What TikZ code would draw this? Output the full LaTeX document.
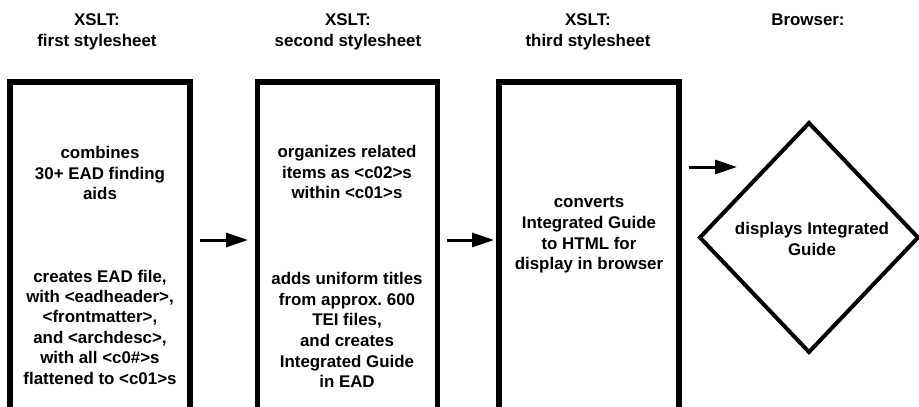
\documentclass[tikz,border=0pt]{standalone}
\usepackage{fontspec}
\setmainfont{Liberation Sans}
\usetikzlibrary{arrows.meta,shapes.geometric}
\frenchspacing
\tikzset{
  txt/.style={font=\fontsize{16.9}{20.4}\selectfont\bfseries, align=center, inner sep=0pt},
  stagebox/.style={draw, line width=5.5pt, outer sep=0pt, minimum width=180pt, minimum height=360pt, anchor=north},
  arr/.style={line width=3pt, -{Triangle[length=22pt,width=14pt]}}
}
\begin{document}
\begin{tikzpicture}[x=1pt,y=-1pt]
\clip (0,0) rectangle (919,407);
\fill[white] (0,0) rectangle (919,407);
% titles
\node[txt] (t1) at (97,32) {XSLT:\\first stylesheet};
\node[txt] (t2) at (348,32) {XSLT:\\second stylesheet};
\node[txt] (t3) at (588,32) {XSLT:\\third stylesheet};
\node[txt] (t4) at (808,20) {Browser:};
% boxes
\node[stagebox, minimum width=180pt] (b1) at (100,82) {};
\node[stagebox, minimum width=180pt] (b2) at (347.5,82) {};
\node[stagebox, minimum width=180pt] (b3) at (589,82) {};
% diamond
\node[draw, diamond, line width=4pt, inner sep=0pt, outer sep=0pt, minimum width=218pt, minimum height=229pt] (d) at (809,237.5) {};
% box texts
\node[txt] (b1a) at (100,173) {combines\\30+ EAD finding\\aids};
\node[txt] (b1b) at (100,327) {creates EAD file,\\with <eadheader>,\\<frontmatter>,\\and <archdesc>,\\with all <c0\#>s\\flattened to <c01>s};
\node[txt] (b2a) at (347,172) {organizes related\\items as <c02>s\\within <c01>s};
\node[txt, font=\fontsize{16.9}{20.6}\selectfont\bfseries] (b2b) at (347,330) {adds uniform titles\\from approx.\ 600\\TEI files,\\and creates\\Integrated Guide\\in EAD};
\node[txt, font=\fontsize{16.9}{20.7}\selectfont\bfseries] (b3a) at (589,235) {converts\\Integrated Guide\\to HTML for\\display in browser};
\node[txt] (da) at (812,239) {displays Integrated\\Guide};
% arrows
\coordinate (r1) at (0,240);
\coordinate (r3) at (0,167);
\coordinate (a3e) at (737,167);
\draw[arr, shorten <=10pt, shorten >=9.5pt] (b1.east |- r1) -- (b2.west |- r1);
\draw[arr, shorten <=9.5pt, shorten >=5pt] (b2.east |- r1) -- (b3.west |- r1);
\draw[arr, shorten <=10pt] (b3.east |- r3) -- (a3e);
\end{tikzpicture}
\end{document}
